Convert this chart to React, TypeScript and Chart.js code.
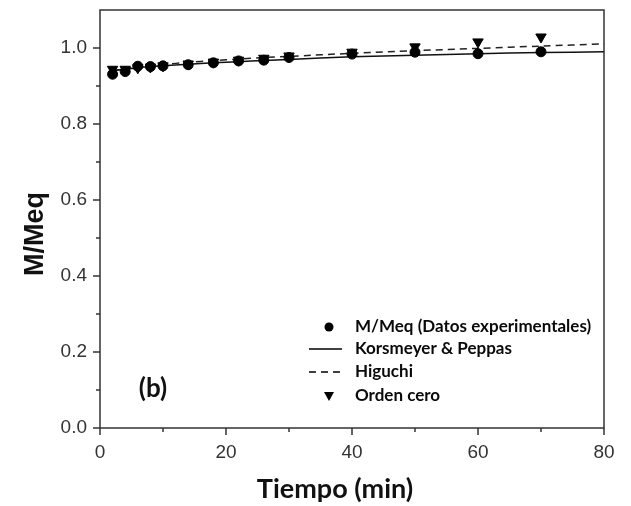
import React, { useEffect, useRef } from 'react';
import { Chart, registerables } from 'chart.js';
Chart.register(...registerables);

// Experimental data (min, M/Meq)
const expTime = [2, 4, 6, 8, 10, 14, 18, 22, 26, 30, 40, 50, 60, 70];
const expValues = [0.931, 0.938, 0.952, 0.951, 0.953, 0.956, 0.961, 0.966, 0.968, 0.975, 0.984, 0.989, 0.985, 0.99];
// Zero order model points
const zeroOrderValues = [0.944, 0.944, 0.948, 0.95, 0.953, 0.958, 0.963, 0.968, 0.973, 0.979, 0.989, 1.003, 1.016, 1.029];
// Model curves
const modelTime = [2, 4, 6, 8, 10, 14, 18, 22, 26, 30, 40, 50, 60, 70, 80];
const korsmeyerValues = [0.94, 0.944, 0.948, 0.951, 0.953, 0.957, 0.961, 0.964, 0.967, 0.97, 0.977, 0.981, 0.985, 0.988, 0.99];
const higuchiValues = [0.94, 0.946, 0.95, 0.954, 0.957, 0.962, 0.967, 0.971, 0.975, 0.978, 0.986, 0.993, 0.999, 1.005, 1.011];

const xTicks = [0, 20, 40, 60, 80];
const yTicks = [0, 0.2, 0.4, 0.6, 0.8, 1.0];
const legendLabels = ['M/Meq (Datos experimentales)', 'Korsmeyer & Peppas', 'Higuchi', 'Orden cero'];
const xTitle = 'Tiempo (min)';
const yTitle = 'M/Meq';
const panelLabel = '(b)';

const AXIS = '#333333';

const toXY = (xs: number[], ys: number[]) => xs.map((x, i) => ({ x, y: ys[i] }));

const framePlugin = {
  id: 'frame',
  afterDraw(chart: any) {
    const { ctx, chartArea: a, scales } = chart;
    const xs = scales.x;
    const ys = scales.y;
    ctx.save();
    ctx.strokeStyle = AXIS;
    ctx.lineWidth = 1.5;
    ctx.strokeRect(a.left, a.top, a.right - a.left, a.bottom - a.top);
    for (let v = 0; v <= 80; v += 10) {
      const px = xs.getPixelForValue(v);
      const len = v % 20 === 0 ? 7 : 4;
      ctx.beginPath();
      ctx.moveTo(px, a.bottom);
      ctx.lineTo(px, a.bottom + len);
      ctx.stroke();
    }
    for (let i = 0; i <= 10; i++) {
      const v = i / 10;
      const py = ys.getPixelForValue(v);
      const len = i % 2 === 0 ? 7 : 4;
      ctx.beginPath();
      ctx.moveTo(a.left, py);
      ctx.lineTo(a.left - len, py);
      ctx.stroke();
    }

    // Axis titles
    ctx.fillStyle = '#111';
    ctx.font = 'bold 27px "Liberation Sans", Arial, sans-serif';
    ctx.save();
    ctx.translate(43, 234);
    ctx.rotate(-Math.PI / 2);
    ctx.textAlign = 'center';
    ctx.textBaseline = 'alphabetic';
    ctx.fillText(yTitle, 0, 0);
    ctx.restore();

    ctx.font = 'bold 27px Lato, sans-serif';
    ctx.textAlign = 'center';
    ctx.textBaseline = 'alphabetic';
    ctx.fillText(xTitle, 335, 498);

    ctx.font = 'bold 26px Lato, sans-serif';
    ctx.textBaseline = 'middle';
    ctx.fillText(panelLabel, 153, 389);

    // Legend
    const rows = [327, 349, 372, 396];
    ctx.font = 'bold 17px Lato, sans-serif';
    ctx.textAlign = 'left';
    ctx.textBaseline = 'middle';
    ctx.fillStyle = '#0a0a0a';
    legendLabels.forEach((t, i) => ctx.fillText(t, 355, rows[i]));
    ctx.fillStyle = '#000';
    ctx.beginPath();
    ctx.arc(329, rows[0], 4.5, 0, Math.PI * 2);
    ctx.fill();
    ctx.strokeStyle = '#000';
    ctx.lineWidth = 1.5;
    ctx.beginPath();
    ctx.moveTo(309, rows[1]);
    ctx.lineTo(342, rows[1]);
    ctx.stroke();
    ctx.setLineDash([7, 5]);
    ctx.beginPath();
    ctx.moveTo(309, rows[2]);
    ctx.lineTo(345, rows[2]);
    ctx.stroke();
    ctx.setLineDash([]);
    ctx.beginPath();
    ctx.moveTo(324, rows[3] - 4);
    ctx.lineTo(334, rows[3] - 4);
    ctx.lineTo(329, rows[3] + 5);
    ctx.closePath();
    ctx.fill();
    ctx.restore();
  },
};

export default function App() {
  const ref = useRef<HTMLCanvasElement>(null);
  useEffect(() => {
    const tickFont = { family: '"Liberation Sans", Arial, sans-serif', size: 19 };
    const chart = new Chart(ref.current as HTMLCanvasElement, {
      type: 'scatter',
      data: {
        datasets: [
          {
            label: legendLabels[0],
            data: toXY(expTime, expValues),
            pointStyle: 'circle',
            pointRadius: 5,
            backgroundColor: '#000',
            borderColor: '#000',
            showLine: false,
          },
          {
            label: legendLabels[3],
            data: toXY(expTime, zeroOrderValues),
            pointStyle: 'triangle',
            rotation: 180,
            pointRadius: 6,
            backgroundColor: '#000',
            borderColor: '#000',
            showLine: false,
          },
          {
            label: legendLabels[1],
            data: toXY(modelTime, korsmeyerValues),
            showLine: true,
            pointRadius: 0,
            borderColor: '#111',
            borderWidth: 1.5,
            tension: 0.3,
          },
          {
            label: legendLabels[2],
            data: toXY(modelTime, higuchiValues),
            showLine: true,
            pointRadius: 0,
            borderColor: '#222',
            borderWidth: 1.5,
            borderDash: [7, 5],
            tension: 0.3,
          },
        ],
      } as any,
      options: {
        animation: false,
        responsive: false,
        layout: { padding: { top: 10, right: 27, left: 0, bottom: 0 } },
        plugins: { legend: { display: false }, tooltip: { enabled: false } },
        scales: {
          x: {
            type: 'linear',
            min: 0,
            max: 80,
            grid: { display: false, drawTicks: false },
            border: { display: false },
            afterBuildTicks: (s: any) => { s.ticks = xTicks.map((v) => ({ value: v })); },
            ticks: { padding: 13, font: tickFont, color: AXIS, maxRotation: 0, callback: (v: any) => String(v) },
            afterFit: (s: any) => { s.height = 78; s.paddingLeft = 0; s.paddingRight = 0; },
          },
          y: {
            type: 'linear',
            min: 0,
            max: 1.1,
            grid: { display: false, drawTicks: false },
            border: { display: false },
            afterBuildTicks: (s: any) => { s.ticks = yTicks.map((v) => ({ value: v })); },
            ticks: { padding: 13, font: tickFont, color: AXIS, callback: (v: any) => Number(v).toFixed(1) },
            afterFit: (s: any) => { s.width = 100; s.paddingTop = 0; s.paddingBottom = 0; },
          },
        },
      } as any,
      plugins: [framePlugin],
    });
    return () => chart.destroy();
  }, []);
  return (
    <div style={{ position: 'fixed', left: 0, top: 0, width: 631, height: 506, background: '#fff' }}>
      <canvas ref={ref} width={631} height={506} style={{ width: 631, height: 506 }} />
    </div>
  );
}
